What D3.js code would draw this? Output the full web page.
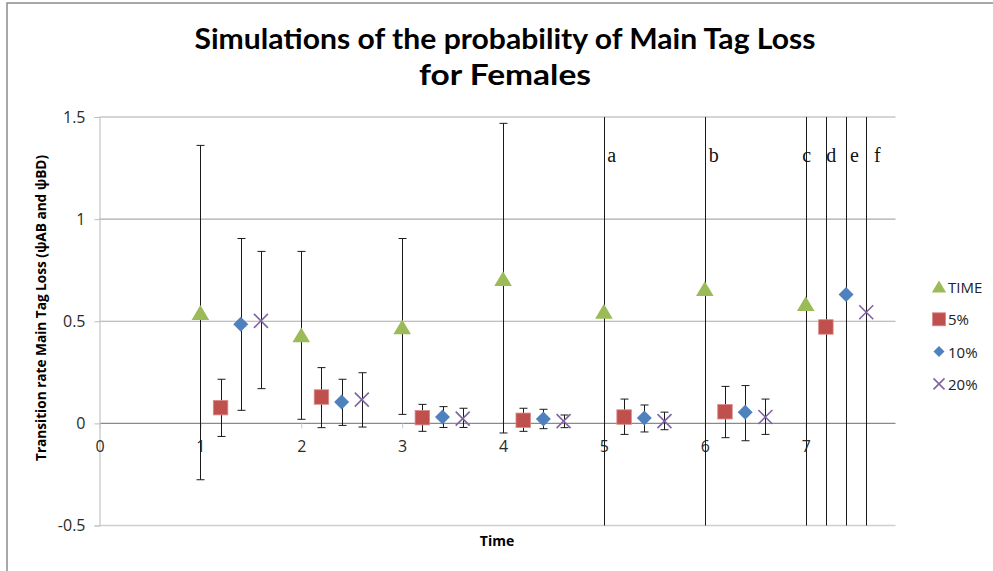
<!DOCTYPE html>
<html>
<head>
<meta charset="utf-8">
<script src="https://cdn.jsdelivr.net/npm/d3@7"></script>
<style>
  body { margin: 0; background: #fff; }
  svg { display: block; }
</style>
</head>
<body>
<div id="chart"></div>
<script>
// Data (values beyond the axis range are error bars that run off the plot)
const seriesNames = ["TIME", "5%", "10%", "20%"];

const timeX  = [1, 2, 3, 4, 5, 6, 7];
const timeY  = [0.54, 0.43, 0.47, 0.706, 0.546, 0.657, 0.583];
const timeHi = [1.361, 0.842, 0.905, 1.469, 3, 3, 3];
const timeLo = [-0.276, 0.02, 0.044, -0.047, -2, -2, -2];

const p5X  = [1.2, 2.2, 3.2, 4.2, 5.2, 6.2, 7.2];
const p5Y  = [0.077, 0.129, 0.028, 0.015, 0.031, 0.057, 0.472];
const p5Hi = [0.216, 0.273, 0.093, 0.074, 0.119, 0.181, 3];
const p5Lo = [-0.064, -0.021, -0.039, -0.039, -0.054, -0.070, -2];

const p10X  = [1.4, 2.4, 3.4, 4.4, 5.4, 6.4, 7.4];
const p10Y  = [0.485, 0.105, 0.031, 0.021, 0.026, 0.054, 0.631];
const p10Hi = [0.905, 0.216, 0.082, 0.069, 0.090, 0.185, 3];
const p10Lo = [0.064, -0.010, -0.020, -0.026, -0.042, -0.085, -2];

const p20X  = [1.6, 2.6, 3.6, 4.6, 5.6, 6.6, 7.6];
const p20Y  = [0.502, 0.116, 0.023, 0.011, 0.011, 0.031, 0.544];
const p20Hi = [0.842, 0.248, 0.074, 0.041, 0.055, 0.119, 3];
const p20Lo = [0.170, -0.018, -0.020, -0.021, -0.031, -0.054, -2];

// letters written next to the long bars
const noteText = ["a", "b", "c", "d", "e", "f"];
const noteX    = [5.032, 6.04, 6.966, 7.204, 7.438, 7.677];
const noteY    = 1.28;

const xTicks = [0, 1, 2, 3, 4, 5, 6, 7];
const yTicks = [-0.5, 0, 0.5, 1, 1.5];

const colors = ["#9bbb59", "#c0504d", "#4f81bd", "#8064a2"];
const shapes = ["triangle", "square", "diamond", "cross"];

let width = 993, height = 571;
let margin = { top: 117, bottom: 45.5, left: 99.5, right: 97.5 };

let svg = d3.select('#chart')
  .append('svg')
  .attr('width', width)
  .attr('height', height);

// outer chart border (only left and top are inside the picture)
svg.append('rect')
  .attr('x', 7).attr('y', 3)
  .attr('width', width + 20).attr('height', height + 20)
  .attr('fill', 'none')
  .attr('stroke', '#8c8c8c')
  .attr('stroke-width', 1.5);

let xScale = d3.scaleLinear()
  .domain([0, 7.89])
  .range([margin.left, width - margin.right]);

let yScale = d3.scaleLinear()
  .domain([-0.5, 1.5])
  .range([height - margin.bottom, margin.top]);

// title
svg.append('text')
  .attr('x', 505).attr('y', 49)
  .attr('text-anchor', 'middle')
  .attr('textLength', 621)
  .attr('lengthAdjust', 'spacingAndGlyphs')
  .style('font-family', 'Lato, "Open Sans", sans-serif')
  .style('font-weight', 'bold')
  .style('font-size', '29px')
  .text('Simulations of the probability of Main Tag Loss');
svg.append('text')
  .attr('x', 505).attr('y', 85)
  .attr('text-anchor', 'middle')
  .attr('textLength', 172)
  .attr('lengthAdjust', 'spacingAndGlyphs')
  .style('font-family', 'Lato, "Open Sans", sans-serif')
  .style('font-weight', 'bold')
  .style('font-size', '29px')
  .text('for Females');

// horizontal gridlines
svg.append('g')
  .selectAll('line')
  .data(yTicks)
  .enter()
  .append('line')
  .attr('x1', xScale(0))
  .attr('x2', width - margin.right)
  .attr('y1', d => yScale(d))
  .attr('y2', d => yScale(d))
  .attr('stroke', d => d === 0 ? '#8a8a8a' : (d === -0.5 ? '#cfcfcf' : '#ababab'))
  .attr('stroke-width', d => d === -0.5 ? 1.5 : 1.2);

// y axis
let yAxis = svg.append('g')
  .attr('transform', `translate(${xScale(0)},0)`)
  .call(d3.axisLeft(yScale).tickValues(yTicks).tickSize(5).tickPadding(9)
    .tickFormat(d => String(d)));
yAxis.select('.domain').attr('stroke', '#c4c4c4').attr('stroke-width', 1.2);
yAxis.selectAll('.tick line').attr('stroke', '#bdbdbd');
yAxis.selectAll('.tick text')
  .attr('font-family', '"Open Sans", sans-serif')
  .attr('font-size', 16)
  .attr('fill', '#2a2a2a');

// x axis sits on y = 0
let xAxis = svg.append('g')
  .attr('transform', `translate(0,${yScale(0)})`)
  .call(d3.axisBottom(xScale).tickValues(xTicks).tickSize(5).tickPadding(12)
    .tickFormat(d => String(d)));
xAxis.select('.domain').remove();
xAxis.selectAll('.tick line').attr('stroke', '#c8c8c8');
xAxis.selectAll('.tick text')
  .attr('font-family', '"Open Sans", sans-serif')
  .attr('font-size', 16)
  .attr('fill', '#2a2a2a');

// axis titles
svg.append('text')
  .text('Time')
  .attr('x', 497).attr('y', 546)
  .attr('text-anchor', 'middle')
  .style('font-family', '"Open Sans", sans-serif')
  .style('font-weight', 'bold')
  .style('font-size', '14px');

svg.append('text')
  .text('Transition rate Main Tag Loss (ψAB and ψBD)')
  .attr('transform', 'translate(46,308) rotate(-90)')
  .attr('text-anchor', 'middle')
  .attr('textLength', 306)
  .attr('lengthAdjust', 'spacingAndGlyphs')
  .style('font-family', '"Open Sans", sans-serif')
  .style('font-weight', 'bold')
  .style('font-size', '14.5px');

// clip for error bars that run past the axis
svg.append('clipPath').attr('id', 'plotClip')
  .append('rect')
  .attr('x', xScale(0)).attr('y', yScale(1.5))
  .attr('width', width - margin.right - xScale(0))
  .attr('height', yScale(-0.5) - yScale(1.5));

const series = [
  { xs: timeX, ys: timeY, hi: timeHi, lo: timeLo },
  { xs: p5X,  ys: p5Y,  hi: p5Hi,  lo: p5Lo },
  { xs: p10X, ys: p10Y, hi: p10Hi, lo: p10Lo },
  { xs: p20X, ys: p20Y, hi: p20Hi, lo: p20Lo }
].map((s, i) => ({
  name: seriesNames[i],
  color: colors[i],
  shape: shapes[i],
  points: s.xs.map((x, j) => ({ x: x, y: s.ys[j], hi: s.hi[j], lo: s.lo[j] }))
}));

// error bars
let errG = svg.append('g').attr('clip-path', 'url(#plotClip)');
series.forEach(s => {
  s.points.forEach(p => {
    let cx = Math.round(xScale(p.x)) + 0.5;
    errG.append('line')
      .attr('x1', cx).attr('x2', cx)
      .attr('y1', yScale(p.hi)).attr('y2', yScale(p.lo))
      .attr('stroke', '#1a1a1a').attr('stroke-width', 1);
    [p.hi, p.lo].forEach(v => {
      errG.append('line')
        .attr('x1', cx - 4).attr('x2', cx + 4)
        .attr('y1', yScale(v)).attr('y2', yScale(v))
        .attr('stroke', '#1a1a1a').attr('stroke-width', 1);
    });
  });
});

// marker drawing
function drawMarker(g, shape, color, cx, cy, size) {
  let h = size / 2;
  if (shape === 'triangle') {
    g.append('path')
      .attr('d', `M${cx},${cy - h}L${cx + h * 1.1},${cy + h * 0.85}L${cx - h * 1.1},${cy + h * 0.85}Z`)
      .attr('fill', color);
  } else if (shape === 'square') {
    g.append('rect')
      .attr('x', cx - h).attr('y', cy - h)
      .attr('width', size).attr('height', size)
      .attr('fill', color)
      .attr('stroke', '#d98a88').attr('stroke-width', 0.8);
  } else if (shape === 'diamond') {
    g.append('path')
      .attr('d', `M${cx},${cy - h}L${cx + h},${cy}L${cx},${cy + h}L${cx - h},${cy}Z`)
      .attr('fill', color);
  } else {
    g.append('path')
      .attr('d', `M${cx - h},${cy - h}L${cx + h},${cy + h}M${cx + h},${cy - h}L${cx - h},${cy + h}`)
      .attr('stroke', color).attr('stroke-width', 1.6).attr('fill', 'none');
  }
}

const markSize = [16, 14.5, 15, 14];
let markG = svg.append('g');
series.forEach((s, i) => {
  s.points.forEach(p => {
    drawMarker(markG, s.shape, s.color, xScale(p.x), yScale(p.y), markSize[i]);
  });
});

// letters
svg.append('g')
  .selectAll('text')
  .data(noteText)
  .enter()
  .append('text')
  .attr('x', (d, i) => xScale(noteX[i]))
  .attr('y', yScale(noteY))
  .text(d => d)
  .style('font-family', '"Liberation Serif", "DejaVu Serif", serif')
  .style('font-size', '20px')
  .attr('fill', '#111');

// legend
const legend = svg.append('g').attr('transform', 'translate(939, 287)');
const legendSize = [13, 13, 11, 11];
series.forEach((s, i) => {
  let ly = i * 32.3;
  drawMarker(legend, s.shape, s.color, 0, ly, legendSize[i]);
  legend.append('text')
    .attr('x', 9)
    .attr('y', ly)
    .attr('dominant-baseline', 'central')
    .text(s.name)
    .style('font-family', '"Open Sans", sans-serif')
    .style('font-size', '15px')
    .attr('fill', '#222');
});
</script>
</body>
</html>
